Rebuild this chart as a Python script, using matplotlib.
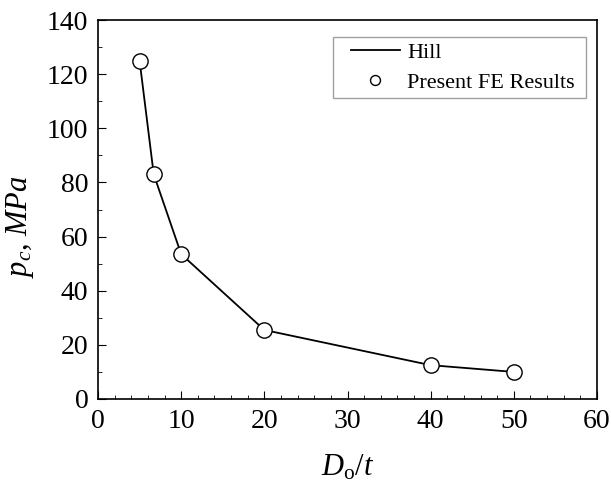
import matplotlib
matplotlib.use("Agg")
import matplotlib.pyplot as plt
from matplotlib.ticker import MultipleLocator
from matplotlib.legend_handler import HandlerLine2D

plt.rcParams['font.family'] = ['Liberation Serif', 'DejaVu Serif']
plt.rcParams['mathtext.fontset'] = 'custom'
plt.rcParams['mathtext.rm'] = 'Liberation Serif'
plt.rcParams['mathtext.it'] = 'Liberation Serif:italic'

do_t = [5, 6.7, 10, 20, 40, 50]
hill = [125, 83, 53.5, 25.5, 12.5, 10]
fe = [125, 83, 53.5, 25.5, 12.5, 10]

fig = plt.figure(figsize=(6.11, 4.82), dpi=100)
ax = fig.add_axes([98/611, 1-399/482, (597-98)/611, (399-20)/482])
l1, = ax.plot(do_t, hill, color='black', lw=1.3, label='Hill')
l2, = ax.plot(do_t, fe, linestyle='none', marker='o', ms=11, mfc='white', mec='black', mew=1.0,
              label='Present FE Results')
ax.set_xlim(0, 60)
ax.set_ylim(0, 140)
ax.xaxis.set_major_locator(MultipleLocator(10))
ax.xaxis.set_minor_locator(MultipleLocator(2))
ax.yaxis.set_major_locator(MultipleLocator(20))
ax.yaxis.set_minor_locator(MultipleLocator(10))
ax.tick_params(which='both', direction='in', top=False, right=False, labelsize=20, pad=7)
ax.tick_params(which='major', length=6)
ax.tick_params(which='minor', length=3)
for s in ax.spines.values():
    s.set_linewidth(1.2)
ax.set_xlabel(r'$D_{\mathrm{o}}/t$', fontsize=22, labelpad=14)
ax.set_ylabel(r'$p_c$, $MPa$', fontsize=22)
ax.yaxis.set_label_coords(-0.125, 0.455)

x0 = (333 - 98) / 499
top = (399 - 37) / 379
w = (586 - 333) / 499
leg = ax.legend(handles=[l1, l2], loc='upper left', bbox_to_anchor=(x0, top - 0.3, w, 0.3),
                mode='expand', borderaxespad=0, fontsize=16, frameon=True, fancybox=False,
                edgecolor='#888888', borderpad=0.25, labelspacing=0.4,
                handlelength=2.75, handletextpad=0.35, markerscale=0.65,
                handler_map={l1: HandlerLine2D(xpad=0.55), l2: HandlerLine2D(xpad=0.55)})
leg.get_frame().set_linewidth(1.0)
fig.savefig('out.png', dpi=100)
